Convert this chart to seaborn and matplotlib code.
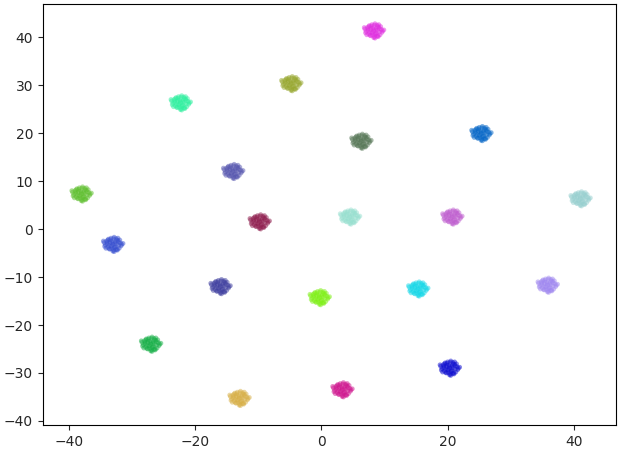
import numpy as np
import pandas as pd
import matplotlib
matplotlib.use("Agg")
import matplotlib.pyplot as plt
import seaborn as sns

sns.set_style("white")
plt.rcParams['font.family'] = ['DejaVu Sans']

# cluster centres (x, y) and their colours
center_x = [8.3, -4.8, -22.3, 6.3, 25.3, -14.0, -38.0, 41.0, -9.8, 4.5,
            20.7, -33.0, 35.8, -16.0, -0.3, 15.3, -27.0, 20.3, 3.3, -13.0]
center_y = [41.3, 30.3, 26.3, 18.3, 19.9, 12.0, 7.3, 6.3, 1.5, 2.5,
            2.5, -3.2, -11.7, -12.0, -14.3, -12.5, -24.0, -29.0, -33.5, -35.3]
cluster_colors = ['#e030e0', '#98a830', '#30f0a0', '#587858', '#0868c8',
                  '#5858b0', '#60c030', '#98d0d0', '#902050', '#98e0d0',
                  '#c060d0', '#3850d0', '#a088f0', '#4040a0', '#80f018',
                  '#18d8e8', '#18b048', '#1010d0', '#d01890', '#d8b048']

# point spread around each centre (estimated cloud shape)
offset_x = [0.0, 0.4, -0.5, 0.9, -0.9, 0.2, -0.3, 1.2, -1.2, 0.6,
            -0.6, 0.1, 1.0, -1.0, 0.5, -0.4, 0.8, -0.8, 0.3, -0.2,
            1.4, -1.4, 0.7, -0.7, 0.0, 0.2, -0.1, 1.1, -1.1, 0.4,
            -0.5, 0.9, -0.9, 0.6, -0.3, 0.1, 1.3, -1.3, 0.5, -0.6,
            0.8, -0.8, 0.2, -0.2, 0.0, 1.6, -1.5, 0.3, -0.4, 0.7]
offset_y = [0.0, 0.5, 0.3, -0.2, 0.1, -0.7, -0.4, 0.3, -0.1, 0.9,
            -0.9, 1.2, -0.8, 0.7, -1.1, 1.0, 0.8, -0.6, 0.2, -0.3,
            0.0, 0.4, -1.2, 1.1, -1.4, 1.5, 0.6, 0.9, -0.8, -0.5,
            -1.0, 0.5, 0.4, 0.1, 1.3, -1.2, -0.3, -0.4, 1.2, -0.2,
            1.3, 0.9, -1.5, -0.9, 0.3, 0.2, 0.7, -0.6, 0.6, -1.0]

rows = []
for cx, cy, col in zip(center_x, center_y, cluster_colors):
    for dx, dy in zip(offset_x, offset_y):
        rows.append({'x': cx + dx, 'y': cy + dy, 'cluster': col})
df = pd.DataFrame(rows)

fig = plt.figure(figsize=(6.2, 4.5), dpi=100)
ax = fig.add_axes([0.069, 0.056, 0.925, 0.935])
sns.scatterplot(data=df, x='x', y='y', hue='cluster', palette=dict(zip(cluster_colors, cluster_colors)),
                s=12, alpha=0.5, linewidth=0, legend=False, ax=ax)

ax.set_xlim(-44.1, 46.7)
ax.set_ylim(-40.8, 46.9)
ax.set_xticks([-40, -20, 0, 20, 40])
ax.set_yticks([-40, -30, -20, -10, 0, 10, 20, 30, 40])
ax.set_xlabel('')
ax.set_ylabel('')
ax.tick_params(labelsize=10, length=3.5, direction='out', left=True, bottom=True)
for sp in ax.spines.values():
    sp.set_color('black')
    sp.set_linewidth(0.8)

fig.savefig('out.png', dpi=100)
